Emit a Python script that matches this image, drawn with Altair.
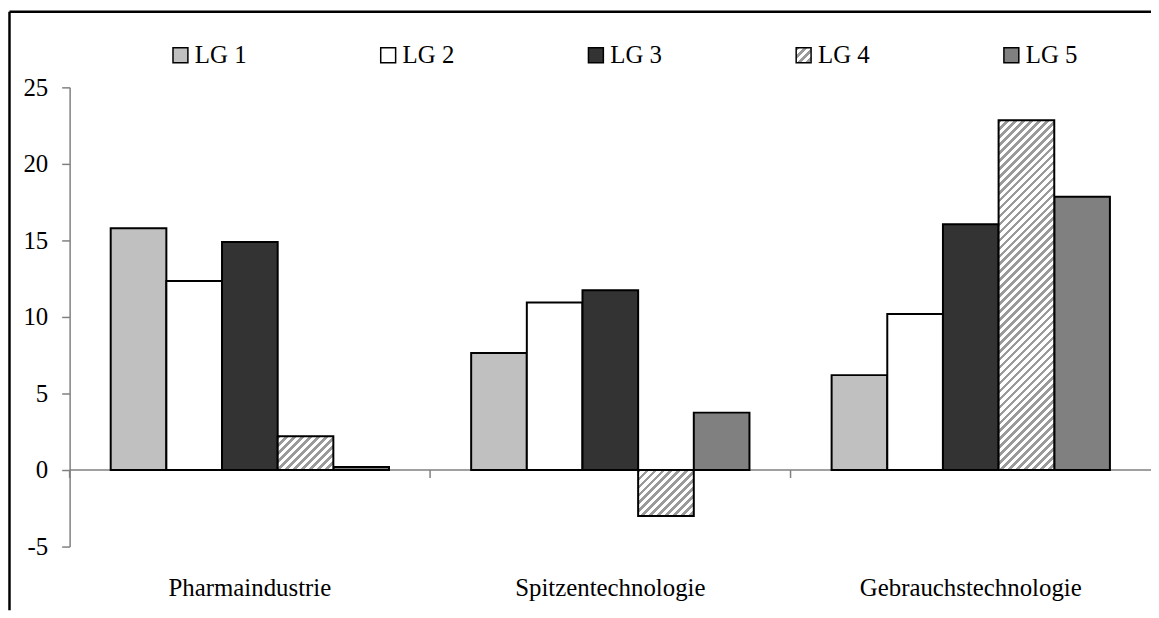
import json
import altair as alt

# ---------------- data ----------------
categories = ["Pharmaindustrie", "Spitzentechnologie", "Gebrauchstechnologie"]
series = ["LG 1", "LG 2", "LG 3", "LG 4", "LG 5"]
lg1 = [15.8, 7.65, 6.2]
lg2 = [12.35, 10.95, 10.2]
lg3 = [14.9, 11.75, 16.05]
lg4 = [2.2, -3.0, 22.85]
lg5 = [0.2, 3.75, 17.85]
y_ticks = [-5, 0, 5, 10, 15, 20, 25]

# ---------------- style ----------------
FONT = "Liberation Serif"
W, H = 1088, 462
Y_MIN, Y_MAX = -5, 25
PAD_OUTER = 0.738
BAR_W = (W / 3) / (5 + 2 * PAD_OUTER)
HATCH_GRAY = "#9a9a9a"
PERIOD = 8.0
GRAY_FRAC = 0.45


def stripe_stops(length):
    stops = []
    k = 0
    while k * PERIOD < length:
        a = k * PERIOD / length
        b = min((k + GRAY_FRAC) * PERIOD / length, 1.0)
        c = min((k + 1) * PERIOD / length, 1.0)
        stops += [
            {"offset": a, "color": HATCH_GRAY},
            {"offset": b, "color": HATCH_GRAY},
            {"offset": b, "color": "#ffffff"},
            {"offset": c, "color": "#ffffff"},
        ]
        k += 1
    return stops


def bar_hatch(v):
    w = BAR_W
    h = max(abs(v) * H / (Y_MAX - Y_MIN), 1.0)
    L = w + h
    d = w * w + h * h
    return {"gradient": "linear", "x1": 0, "y1": 0,
            "x2": L * w / d, "y2": L * h / d, "stops": stripe_stops(L)}


legend_hatch = {"gradient": "linear", "x1": 0, "y1": 0, "x2": 1, "y2": 1,
                "stops": stripe_stops(30)}

values_by_series = [lg1, lg2, lg3, lg4, lg5]
rows = []
for s, vals in zip(series, values_by_series):
    for c, v in zip(categories, vals):
        rows.append({"cat": c, "lg": s, "v": v})

hatch_rows = [{"cat": c, "lg": "LG 4", "v": v, "hatch": bar_hatch(v)}
              for c, v in zip(categories, lg4)]

fill_range = ["#c0c0c0", "#ffffff", "#333333",
              {"expr": json.dumps(legend_hatch)}, "#808080"]

x_scale = alt.Scale(domain=categories, paddingInner=0, paddingOuter=0)

x_axis = alt.Axis(title=None, domain=False, ticks=False, labelPadding=29,
                  labelFont=FONT, labelFontSize=25, labelColor="black",
                  labelAngle=0, labelLimit=0, labelAlign="center",
                  bandPosition=0.5, grid=False)

x_enc = alt.X("cat:N", sort=categories, scale=x_scale, axis=x_axis)
xoff_enc = alt.XOffset(
    "lg:N", sort=series,
    scale=alt.Scale(domain=series, paddingInner=0, paddingOuter=PAD_OUTER),
)
y_enc = alt.Y(
    "v:Q",
    scale=alt.Scale(domain=[Y_MIN, Y_MAX], nice=False, zero=False),
    axis=alt.Axis(title=None, values=y_ticks, grid=False,
                  labelExpr="toString(datum.value)",
                  domainColor="#808080", domainWidth=1.5,
                  tickColor="#808080", tickSize=8, tickWidth=1.5,
                  labelPadding=14, labelFont=FONT, labelFontSize=25,
                  labelColor="black"),
)

one = alt.Data(values=[{"a": 1}])

frame_left = alt.Chart(one).mark_rule(color="black", strokeWidth=2.5).encode(
    x=alt.value(-60.5), y=alt.value(-76), y2=alt.value(H + 64))
frame_top = alt.Chart(one).mark_rule(color="black", strokeWidth=2.5).encode(
    x=alt.value(-60.5), x2=alt.value(W + 20), y=alt.value(-76))

zero_line = alt.Chart(one).mark_rule(color="#808080", strokeWidth=1.5).encode(
    y=alt.datum(0))

cat_data = alt.Data(values=[{"cat": c} for c in categories])
boundary_ticks = alt.Chart(cat_data).mark_rule(
    color="#808080", strokeWidth=1.5, y2Offset=8
).encode(
    x=alt.X("cat:N", sort=categories, bandPosition=0, scale=x_scale, axis=x_axis),
    y=alt.datum(0), y2=alt.datum(0),
)

bars = alt.Chart(alt.Data(values=rows)).transform_filter(
    alt.datum.lg != "LG 4"
).mark_bar(stroke="black", strokeWidth=2, fillOpacity=1, opacity=1).encode(
    x=x_enc, xOffset=xoff_enc, y=y_enc,
    color=alt.Color(
        "lg:N",
        scale=alt.Scale(domain=series, range=fill_range),
        legend=alt.Legend(
            title=None, orient="none", legendX=99, legendY=-45,
            direction="horizontal", symbolType="square", symbolSize=225,
            symbolStrokeColor="black", symbolStrokeWidth=1.5,
            labelFont=FONT, labelFontSize=25, labelColor="black",
            labelOffset=2, columnPadding=129, padding=0,
        ),
    ),
)

hatch_bars = alt.Chart(alt.Data(values=hatch_rows)).mark_bar(
    stroke="black", strokeWidth=2, fillOpacity=1, opacity=1
).encode(
    x=x_enc, xOffset=xoff_enc, y=y_enc,
    fill=alt.Fill("hatch:N", scale=None, legend=None),
)

chart = alt.layer(
    frame_left, frame_top, zero_line, boundary_ticks, bars, hatch_bars
).properties(
    width=W, height=H,
    padding={"left": 62, "top": 78, "right": 0, "bottom": 64},
    autosize=alt.AutoSizeParams(type="none"),
    background="white",
).configure_view(stroke=None)

chart.save("out.html", embed_options={"renderer": "svg", "actions": False})
